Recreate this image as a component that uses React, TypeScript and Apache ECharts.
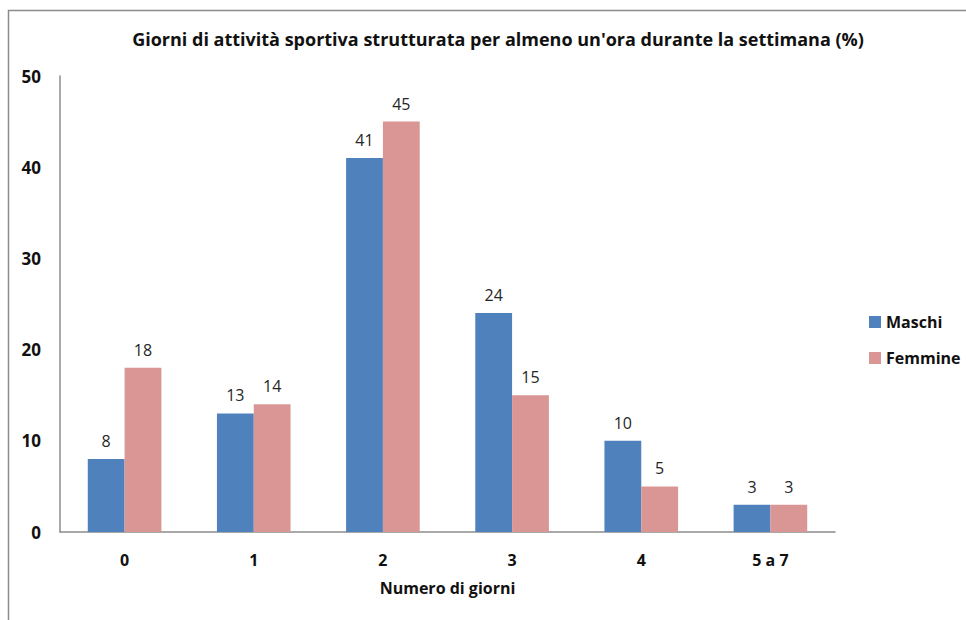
import React, { useEffect, useRef } from "react";
import * as echarts from "echarts";

const categories = ["0", "1", "2", "3", "4", "5 a 7"];
const maschi = [8, 13, 41, 24, 10, 3];
const femmine = [18, 14, 45, 15, 5, 3];
const yTicks = { min: 0, max: 50, interval: 10 };

const FONT = "'Open Sans', 'Noto Sans', sans-serif";

export default function App() {
  const ref = useRef<HTMLDivElement>(null);
  useEffect(() => {
    if (!ref.current) return;
    const chart = echarts.init(ref.current, null, { renderer: "svg" });
    const label = {
      show: true,
      position: "top" as const,
      distance: 10,
      color: "#262626",
      fontFamily: FONT,
      fontSize: 16,
    };
    chart.setOption({
      animation: false,
      backgroundColor: "#ffffff",
      textStyle: { fontFamily: FONT },
      title: {
        text: "Giorni di attività sportiva strutturata per almeno un'ora durante la settimana (%)",
        left: 493,
        textAlign: "center",
        top: 25,
        textStyle: { fontFamily: FONT, fontSize: 18, fontWeight: "bold", color: "#111" },
      },
      legend: {
        orient: "vertical",
        left: 864,
        top: 309,
        itemWidth: 12,
        itemHeight: 12,
        itemGap: 20,
        icon: "rect",
        textStyle: { fontFamily: FONT, fontSize: 16, fontWeight: "bold", color: "#111" },
        data: ["Maschi", "Femmine"],
      },
      grid: { left: 60, top: 76, width: 775, height: 456, containLabel: false },
      xAxis: {
        type: "category",
        data: categories,
        name: "Numero di giorni",
        nameLocation: "middle",
        nameGap: 48,
        nameTextStyle: { fontFamily: FONT, fontSize: 16, fontWeight: "bold", color: "#111" },
        axisLine: { lineStyle: { color: "#8c8c8c", width: 1.5 } },
        axisTick: { show: false },
        axisLabel: { fontFamily: FONT, fontSize: 16, fontWeight: "bold", color: "#111", margin: 20 },
      },
      yAxis: {
        type: "value",
        min: yTicks.min,
        max: yTicks.max,
        interval: yTicks.interval,
        axisLine: { show: true, lineStyle: { color: "#8c8c8c", width: 1.5 } },
        axisTick: { show: false },
        splitLine: { show: false },
        axisLabel: { fontFamily: FONT, fontSize: 17, fontWeight: "bold", color: "#111", margin: 19 },
      },
      graphic: [
        {
          type: "rect",
          shape: { x: 8.5, y: 10.5, width: 970, height: 620 },
          style: { fill: "none", stroke: "#8c8c8c", lineWidth: 1.5 },
          silent: true,
        },
      ],
      series: [
        {
          name: "Maschi",
          type: "bar",
          data: maschi,
          barGap: "0%",
          barCategoryGap: "43%",
          itemStyle: { color: "#4f81bd" },
          label,
        },
        {
          name: "Femmine",
          type: "bar",
          data: femmine,
          barGap: "0%",
          barCategoryGap: "43%",
          itemStyle: { color: "#d99694" },
          label,
        },
      ],
    });
    return () => chart.dispose();
  }, []);
  return (
    <div
      ref={ref}
      style={{ position: "absolute", left: 0, top: 0, width: 966, height: 620 }}
    />
  );
}
